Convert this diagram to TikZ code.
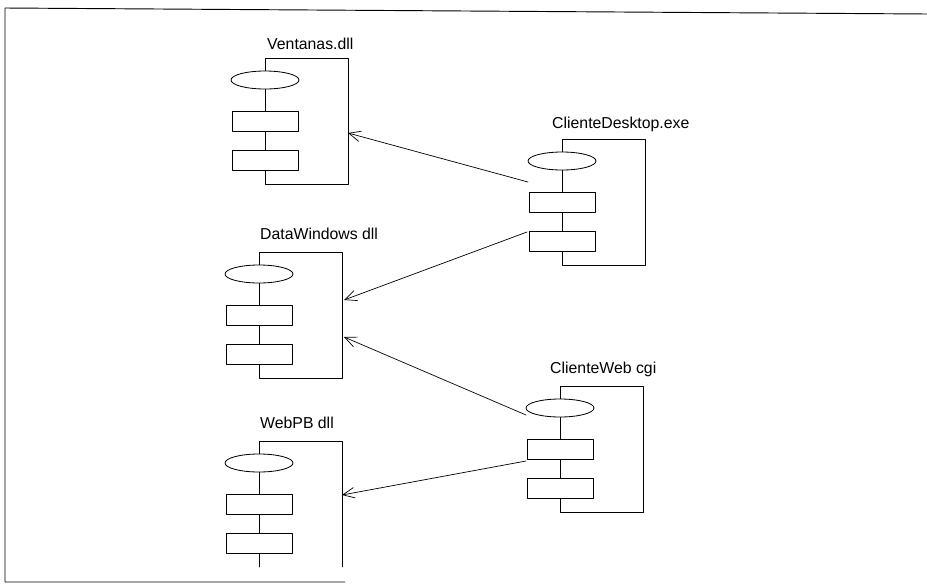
\documentclass[tikz,border=0pt]{standalone}
\usepackage{fontspec}
\setmainfont{Liberation Sans}
\usetikzlibrary{arrows.meta}

\begin{document}
\begin{tikzpicture}[
  x=0.03cm,
  y=-0.03cm,
  line cap=round,
  line join=round,
  etiqueta/.style={inner sep=0pt, anchor=base west, font=\fontsize{13.5}{16}\selectfont},
  dependencia/.style={-{Straight Barb[length=10pt,width=9pt]}, line width=0.6pt}
]
  \useasboundingbox (0,0) rectangle (927,585);

  \def\ancho{83}
  \def\alto{126}

  % Componente: cuerpo, elipse y dos rectangulos sobre el borde izquierdo
  \def\componente#1#2#3{%
    \draw[line width=0.7pt]
      (#1,{#2+\alto}) -- (#1,#2) -- ({#1+\ancho},#2) -- ({#1+\ancho},{#2+\alto}) #3;
    \draw[line width=0.7pt, fill=white]
      (#1,{#2+22})
      ellipse[
        x radius=34,
        y radius=9
      ];
    \draw[line width=0.7pt, fill=white]
      ({#1-33},{#2+53}) rectangle ({#1+33},{#2+73});
    \draw[line width=0.7pt, fill=white]
      ({#1-33},{#2+92}) rectangle ({#1+33},{#2+112});
  }

  % Marco
  \draw[line width=0.8pt]
    (927,14) -- (5,8) -- (5,582) -- (345,582);

  % Componentes
  \componente{265}{58}{-- cycle}
  \componente{259}{252}{-- cycle}
  \componente{259}{441}{}
  \componente{562}{139}{-- cycle}
  \componente{560}{386}{-- cycle}

  % Nombres
  \node[etiqueta] (ventanas) at (267,49) {Ventanas.dll};
  \node[etiqueta] (datawindows) at (260,239) {DataWindows dll};
  \node[etiqueta] (webpb) at (260,428) {WebPB dll};
  \node[etiqueta] (desktop) at (552,128) {ClienteDesktop.exe};
  \node[etiqueta] (web) at (550,373) {ClienteWeb cgi};

  % Puntos de las dependencias
  \coordinate (D1) at (528,182);
  \coordinate (D2) at (527,232);
  \coordinate (W1) at (526,415);
  \coordinate (W2) at (526,461);
  \coordinate (V) at (348,133);
  \coordinate (DW1) at (344,300);
  \coordinate (DW2) at (344,337);
  \coordinate (PB) at (342,495);

  % Dependencias
  \draw[dependencia] (D1) -- (V);
  \draw[dependencia] (D2) -- (DW1);
  \draw[dependencia] (W1) -- (DW2);
  \draw[dependencia] (W2) -- (PB);
\end{tikzpicture}
\end{document}
